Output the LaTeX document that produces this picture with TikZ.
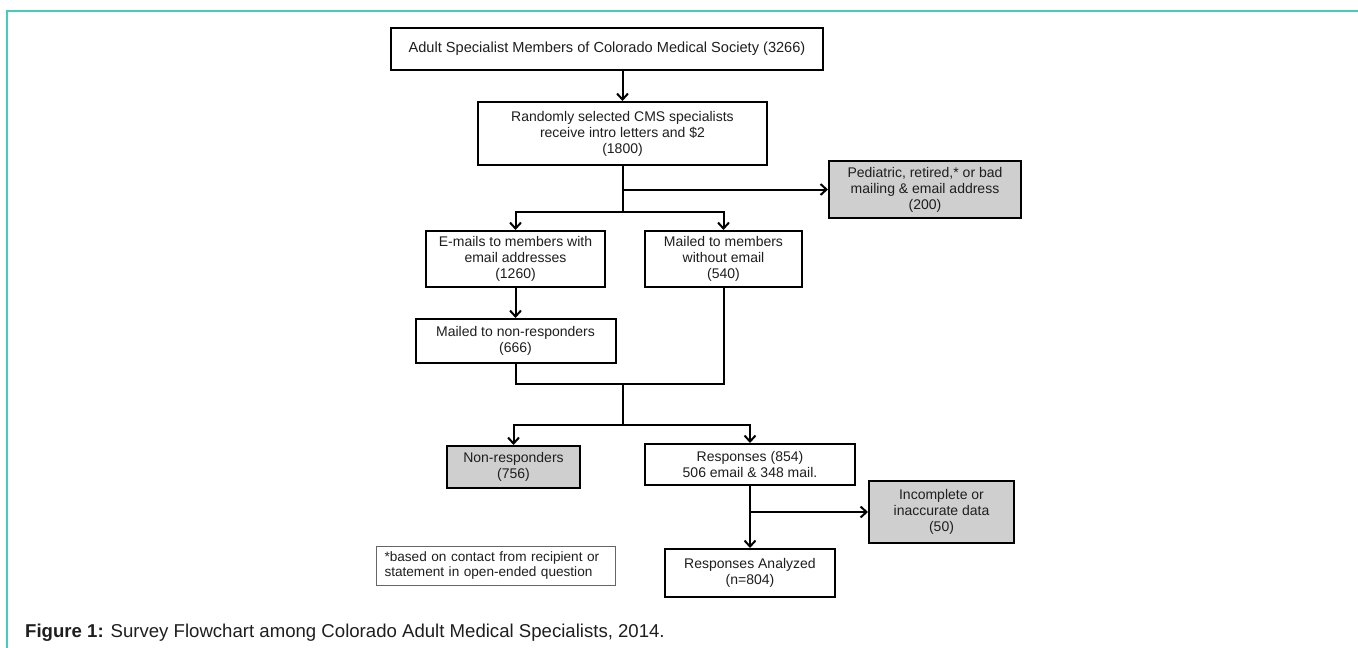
\documentclass[tikz,border=0pt]{standalone}
\usepackage{fontspec}
\setmainfont{Liberation Sans}
\usetikzlibrary{arrows.meta}
\definecolor{frameteal}{RGB}{70,204,188}
\definecolor{boxgray}{RGB}{207,207,207}
\definecolor{txt}{RGB}{30,30,30}
\tikzset{
  fbox/.style={draw=black, line width=2pt, fill=white, inner sep=0pt, align=center,
    text=txt, font=\fontsize{14}{16}\selectfont},
  gbox/.style={fbox, fill=boxgray},
  conn/.style={line width=2pt, draw=black},
  arr/.style={conn, -{Straight Barb[length=6pt,width=11pt,line width=2pt]}},
}
\begin{document}
\begin{tikzpicture}[x=1pt,y=-1pt]
\useasboundingbox (0,0) rectangle (1358,648);
% frame
\draw[frameteal, line width=1.6pt] (7,648) -- (7,11) -- (1358,11);
% boxes
\node[fbox, minimum width=432pt, minimum height=42pt, font=\fontsize{14.6}{16}\selectfont] (top) at (607,49)
  {Adult Specialist Members of Colorado Medical Society (3266)};
\node[fbox, minimum width=289pt, minimum height=63pt] (b2) at (622.5,133.5)
  {Randomly selected CMS specialists\\receive intro letters and \$2\\(1800)};
\node[gbox, minimum width=192pt, minimum height=57pt] (ped) at (925,189.5)
  {Pediatric, retired,* or bad\\mailing \& email address\\(200)};
\node[fbox, minimum width=179pt, minimum height=56pt] (email) at (515.5,259)
  {E-mails to members with\\email addresses\\(1260)};
\node[fbox, minimum width=157pt, minimum height=56pt] (mail) at (723.5,259)
  {Mailed to members\\without email\\(540)};
\node[fbox, minimum width=200pt, minimum height=44pt] (nmail) at (515.5,341)
  {Mailed to non-responders\\(666)};
\node[gbox, minimum width=133pt, minimum height=42pt] (nonr) at (513.5,467)
  {Non-responders\\(756)};
\node[fbox, minimum width=210pt, minimum height=41pt] (resp) at (750,464.5)
  {Responses (854)\\506 email \& 348 mail.};
\node[gbox, minimum width=145pt, minimum height=62pt] (inc) at (941.5,512)
  {Incomplete or\\inaccurate data\\(50)};
\node[fbox, minimum width=170pt, minimum height=48pt] (ana) at (750,573)
  {Responses Analyzed\\(n=804)};
\node[draw=black!60, line width=0.8pt, minimum width=239pt, minimum height=39pt,
  text width=222pt, inner xsep=8.5pt, inner ysep=0pt, align=left, text=txt,
  font=\fontsize{13.6}{15}\selectfont] (foot) at (495.5,565.5)
  {*based on contact from recipient or\\statement in open-ended question};
% caption
\node[anchor=west, inner sep=0pt, text=txt, font=\fontsize{18.6}{20}\selectfont] (cap) at (25,633)
  {\textbf{Figure 1:} Survey Flowchart among Colorado Adult Medical Specialists, 2014.};
% connectors
\path (b2.south) ++(0,46) coordinate (j1);
\draw[arr] (top.south -| b2.north) -- (b2.north);
\draw[conn] (b2.south) -- (j1);
\draw[arr] (b2.south |- ped.west) -- (ped.west);
\draw[arr] (j1) -| (email.north);
\draw[arr] (j1) -| (mail.north);
\draw[arr] (email.south) -- (nmail.north);
\path (nmail.south) ++(0,20) coordinate (k1);
\coordinate (j2) at (k1 -| b2.south);
\path (j2) ++(0,41) coordinate (j3);
\draw[conn] (nmail.south) -- (k1) -| (mail.south);
\draw[conn] (j2) -- (j3);
\draw[arr] (j3) -| (nonr.north);
\draw[arr] (j3) -| (resp.north);
\draw[arr] (resp.south) -- (ana.north);
\draw[arr] (resp.south |- inc.west) -- (inc.west);
\end{tikzpicture}
\end{document}
